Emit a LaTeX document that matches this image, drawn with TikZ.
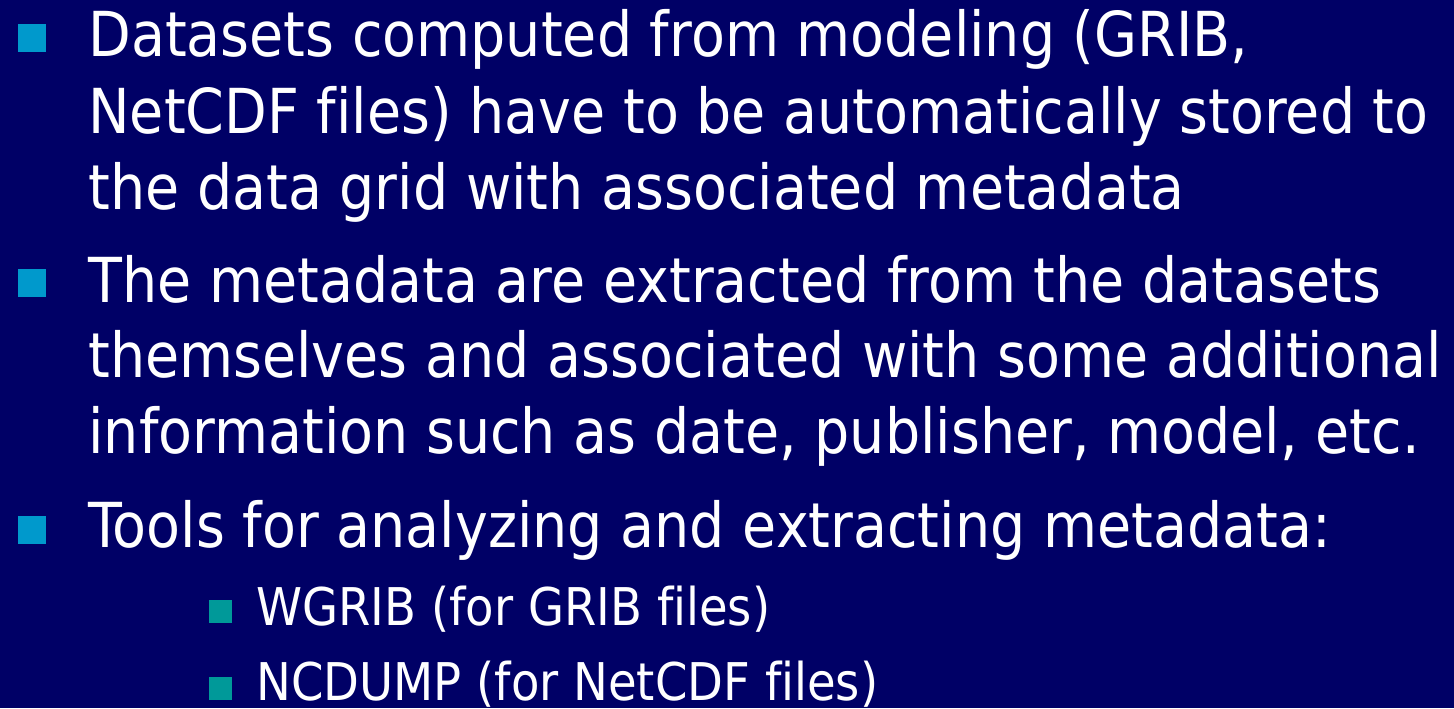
\documentclass[tikz,border=0pt]{standalone}
\usepackage{fontspec}
\setmainfont[FakeStretch=0.895, Ligatures=CommonOff]{DejaVu Sans}
\usepackage{tikz}

\definecolor{slidebg}{HTML}{000066}
\definecolor{mainbullet}{HTML}{0099CC}
\definecolor{subbullet}{HTML}{009999}

\tikzset{
  line/.style = {anchor = base west, inner sep = 0, text = white,
                 font = \fontsize{31}{37}\selectfont},
  subline/.style = {line, font = \fontsize{26}{31}\selectfont},
  bullet/.style = {fill = mainbullet, inner sep = 0, minimum size = 14pt},
  subbul/.style = {fill = subbullet, inner sep = 0, minimum size = 11.5pt}
}

\begin{document}
\begin{tikzpicture}[x = 0.5pt, y = -0.5pt]
    \fill [slidebg] (0, 0) rectangle (1454, 708);
    \useasboundingbox (0, 0) rectangle (1454, 708);

    \node [bullet] (b1) at (31.5, 38) {};
    \node [bullet] (b2) at (31.5, 283) {};
    \node [bullet] (b3) at (31.5, 529.5) {};
    \node [subbul] (s1) at (220.5, 611) {};
    \node [subbul] (s2) at (220.5, 688) {};

    \node [line] (l1) at (88, 56) {Datasets computed from modeling (GRIB,};
    \node [line] (l2) at (88, 133) {NetCDF files) have to be automatically stored to};
    \node [line] (l3) at (88, 209) {the data grid with associated metadata};

    \node [line] (l4) at (88, 302) {The metadata are extracted from the datasets};
    \node [line] (l5) at (88, 377) {themselves and associated with some additional};
    \node [line] (l6) at (88, 453) {information such as date, publisher, model, etc.};

    \node [line] (l7) at (88, 547) {Tools for analyzing and extracting metadata:};

    \node [subline] (t1) at (256, 625) {WGRIB (for GRIB files)};
    \node [subline] (t2) at (256, 700) {NCDUMP (for NetCDF files)};
  \end{tikzpicture}
\end{document}
